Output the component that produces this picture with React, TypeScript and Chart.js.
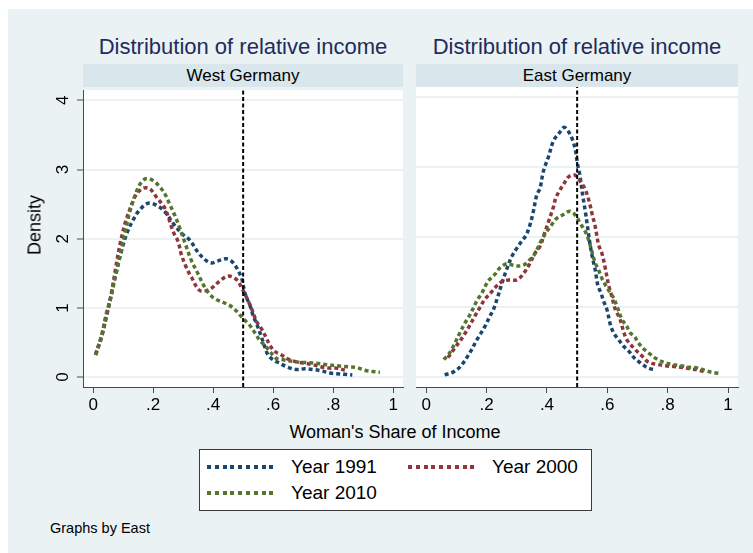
import React, { useEffect, useRef } from 'react';
import { Chart, registerables } from 'chart.js';

Chart.register(...registerables);

const FONT = '"Liberation Sans", Arial, Helvetica, sans-serif';

const xTicks = [0, 0.2, 0.4, 0.6, 0.8, 1];
const xTickLabels = ['0', '.2', '.4', '.6', '.8', '1'];
const yTicks = [0, 1, 2, 3, 4];
const yTickLabels = ['0', '1', '2', '3', '4'];
const xRange = [-0.034, 1.033];
const yRange = [-0.143, 4.147];
const cutoff = 0.5;

const seriesNames = ['Year 1991', 'Year 2000', 'Year 2010'];
const seriesColors = ['#1a476f', '#90353b', '#55752f'];
const panelTitles = ['Distribution of relative income', 'Distribution of relative income'];
const panelNames = ['West Germany', 'East Germany'];
const xAxisTitle = "Woman's Share of Income";
const yAxisTitle = 'Density';
const noteText = 'Graphs by East';

// West Germany
const westX1991 = [0.008, 0.028, 0.044, 0.061, 0.078, 0.094, 0.114, 0.133, 0.15, 0.181, 0.208, 0.239, 0.267, 0.294, 0.322, 0.35, 0.378, 0.394, 0.417, 0.444, 0.467, 0.494, 0.506, 0.525, 0.533, 0.545, 0.561, 0.572, 0.583, 0.6, 0.622, 0.65, 0.678, 0.706, 0.733, 0.761, 0.789, 0.811, 0.839, 0.864];
const westY1991 = [0.32, 0.58, 0.87, 1.2, 1.53, 1.82, 2.1, 2.27, 2.39, 2.51, 2.49, 2.39, 2.22, 2.08, 1.98, 1.8, 1.68, 1.65, 1.68, 1.71, 1.65, 1.44, 1.21, 1.01, 0.89, 0.77, 0.58, 0.44, 0.32, 0.25, 0.2, 0.14, 0.11, 0.12, 0.11, 0.09, 0.06, 0.05, 0.04, 0.03];

const westX2000 = [0.008, 0.028, 0.044, 0.061, 0.075, 0.089, 0.106, 0.128, 0.144, 0.167, 0.189, 0.211, 0.239, 0.267, 0.283, 0.294, 0.311, 0.328, 0.356, 0.389, 0.422, 0.45, 0.478, 0.494, 0.517, 0.528, 0.545, 0.561, 0.578, 0.589, 0.606, 0.628, 0.65, 0.678, 0.706, 0.733, 0.756, 0.789, 0.811, 0.839];
const westY2000 = [0.33, 0.6, 0.9, 1.22, 1.58, 1.91, 2.22, 2.49, 2.64, 2.73, 2.72, 2.6, 2.44, 2.1, 1.96, 1.77, 1.58, 1.44, 1.25, 1.27, 1.39, 1.46, 1.41, 1.3, 1.1, 0.99, 0.8, 0.7, 0.56, 0.46, 0.37, 0.32, 0.26, 0.22, 0.2, 0.18, 0.15, 0.13, 0.13, 0.1];

const westX2010 = [0.008, 0.028, 0.044, 0.056, 0.07, 0.083, 0.106, 0.122, 0.144, 0.161, 0.178, 0.2, 0.222, 0.239, 0.256, 0.272, 0.289, 0.306, 0.328, 0.35, 0.372, 0.4, 0.444, 0.467, 0.489, 0.506, 0.522, 0.539, 0.556, 0.572, 0.589, 0.611, 0.633, 0.678, 0.711, 0.744, 0.778, 0.822, 0.85, 0.878, 0.906, 0.933, 0.956];
const westY2010 = [0.32, 0.6, 0.92, 1.1, 1.4, 1.63, 2.08, 2.39, 2.68, 2.82, 2.87, 2.84, 2.75, 2.65, 2.49, 2.34, 2.15, 1.94, 1.68, 1.49, 1.3, 1.15, 1.06, 1.0, 0.9, 0.82, 0.75, 0.64, 0.53, 0.46, 0.37, 0.27, 0.25, 0.22, 0.21, 0.2, 0.18, 0.16, 0.15, 0.14, 0.1, 0.08, 0.07];

// East Germany
const eastX1991 = [0.061, 0.089, 0.113, 0.142, 0.169, 0.194, 0.211, 0.222, 0.235, 0.25, 0.264, 0.283, 0.3, 0.316, 0.331, 0.344, 0.355, 0.366, 0.377, 0.388, 0.405, 0.422, 0.441, 0.457, 0.471, 0.485, 0.494, 0.501, 0.508, 0.513, 0.519, 0.527, 0.535, 0.543, 0.551, 0.56, 0.568, 0.579, 0.588, 0.599, 0.61, 0.621, 0.638, 0.654, 0.671, 0.69, 0.71, 0.734, 0.759];
const eastY1991 = [0.03, 0.07, 0.15, 0.33, 0.54, 0.72, 0.87, 0.96, 1.12, 1.33, 1.51, 1.72, 1.84, 1.94, 2.03, 2.18, 2.37, 2.6, 2.7, 2.94, 3.15, 3.38, 3.49, 3.57, 3.51, 3.39, 3.25, 3.05, 2.91, 2.77, 2.58, 2.37, 2.13, 1.89, 1.7, 1.53, 1.32, 1.2, 1.08, 0.96, 0.75, 0.63, 0.53, 0.44, 0.37, 0.27, 0.2, 0.13, 0.1];

const eastX2000 = [0.072, 0.094, 0.122, 0.139, 0.161, 0.177, 0.194, 0.213, 0.233, 0.253, 0.277, 0.302, 0.324, 0.344, 0.36, 0.377, 0.39, 0.405, 0.422, 0.429, 0.444, 0.457, 0.471, 0.491, 0.51, 0.527, 0.541, 0.549, 0.56, 0.571, 0.582, 0.593, 0.604, 0.615, 0.627, 0.641, 0.654, 0.665, 0.693, 0.715, 0.737, 0.765, 0.793, 0.821, 0.843, 0.871, 0.9, 0.926];
const eastY2000 = [0.28, 0.41, 0.58, 0.7, 0.87, 0.99, 1.11, 1.2, 1.3, 1.37, 1.39, 1.39, 1.49, 1.63, 1.77, 1.87, 2.03, 2.22, 2.44, 2.56, 2.68, 2.77, 2.86, 2.89, 2.8, 2.68, 2.49, 2.34, 2.15, 1.89, 1.77, 1.56, 1.32, 1.15, 0.96, 0.84, 0.65, 0.53, 0.39, 0.3, 0.21, 0.18, 0.16, 0.15, 0.14, 0.12, 0.1, 0.07];

const eastX2010 = [0.058, 0.075, 0.091, 0.111, 0.128, 0.142, 0.153, 0.169, 0.183, 0.205, 0.228, 0.244, 0.268, 0.294, 0.322, 0.344, 0.36, 0.372, 0.386, 0.399, 0.413, 0.43, 0.453, 0.477, 0.497, 0.51, 0.527, 0.538, 0.546, 0.56, 0.571, 0.582, 0.593, 0.61, 0.621, 0.632, 0.649, 0.665, 0.676, 0.69, 0.701, 0.721, 0.741, 0.763, 0.787, 0.815, 0.843, 0.871, 0.898, 0.926, 0.954, 0.976];
const eastY2010 = [0.25, 0.33, 0.45, 0.63, 0.77, 0.87, 0.96, 1.1, 1.19, 1.37, 1.47, 1.56, 1.62, 1.59, 1.6, 1.68, 1.76, 1.87, 1.99, 2.08, 2.16, 2.26, 2.32, 2.37, 2.3, 2.2, 2.08, 1.96, 1.84, 1.63, 1.53, 1.41, 1.32, 1.2, 1.13, 1.01, 0.82, 0.72, 0.63, 0.58, 0.5, 0.4, 0.33, 0.26, 0.21, 0.18, 0.16, 0.14, 0.13, 0.09, 0.06, 0.05];

const westSeries = [[westX1991, westY1991], [westX2000, westY2000], [westX2010, westY2010]];
const eastSeries = [[eastX1991, eastY1991], [eastX2000, eastY2000], [eastX2010, eastY2010]];

const BG = '#eaf2f3';
const STRIP = '#d9e6eb';
const AXIS = '#4a4a4a';
const TITLE_COLOR = '#1e2c5c';

const toPoints = (xs: number[], ys: number[]) => xs.map((x, i) => ({ x, y: ys[i] }));

const plotBg = {
  id: 'plotBg',
  beforeDraw(chart: any) {
    const { ctx, chartArea } = chart;
    ctx.save();
    ctx.fillStyle = '#ffffff';
    ctx.fillRect(chartArea.left, chartArea.top, chartArea.right - chartArea.left, chartArea.bottom - chartArea.top);
    ctx.restore();
  },
};

function Panel(props: { series: number[][][]; showY: boolean; left: number; width: number; padRight: number; yWidth: number }) {
  const ref = useRef<HTMLCanvasElement>(null);
  useEffect(() => {
    const canvas = ref.current;
    if (!canvas) return;
    const datasets: any[] = [
      {
        label: 'cutoff',
        data: [{ x: cutoff, y: yRange[0] }, { x: cutoff, y: yRange[1] }],
        borderColor: '#000000',
        borderWidth: 2,
        borderDash: [4, 2.5],
        pointRadius: 0,
        order: 0,
      },
    ];
    props.series.forEach(([xs, ys], i) => {
      datasets.push({
        label: seriesNames[i],
        data: toPoints(xs, ys),
        borderColor: seriesColors[i],
        borderWidth: 3.5,
        borderDash: [4, 3],
        borderCapStyle: 'butt',
        pointRadius: 0,
        tension: 0.35,
        order: 3 - i,
      });
    });
    const chart = new Chart(canvas, {
      type: 'line',
      data: { datasets },
      plugins: [plotBg],
      options: {
        animation: false,
        responsive: false,
        events: [],
        layout: { padding: { top: 16, right: props.padRight, left: 0, bottom: 0 } },
        plugins: { legend: { display: false }, tooltip: { enabled: false } },
        scales: {
          x: {
            type: 'linear',
            min: xRange[0],
            max: xRange[1],
            afterBuildTicks: (s: any) => {
              s.ticks = xTicks.map((v) => ({ value: v }));
            },
            afterFit: (s: any) => {
              s.height = 33;
            },
            ticks: {
              autoSkip: false,
              maxRotation: 0,
              minRotation: 0,
              padding: 2,
              color: '#000000',
              font: { family: FONT, size: 17 },
              callback: (v: any) => {
                const idx = xTicks.findIndex((t) => Math.abs(t - Number(v)) < 1e-6);
                return idx >= 0 ? xTickLabels[idx] : '';
              },
            },
            grid: { drawOnChartArea: false, drawTicks: true, tickLength: 6, tickColor: AXIS, tickWidth: 1 },
            border: { display: true, color: AXIS, width: 1 },
          },
          y: {
            type: 'linear',
            min: yRange[0],
            max: yRange[1],
            afterBuildTicks: (s: any) => {
              s.ticks = yTicks.map((v) => ({ value: v }));
            },
            afterFit: (s: any) => {
              s.width = props.yWidth;
            },
            ticks: {
              display: props.showY,
              autoSkip: false,
              minRotation: 90,
              maxRotation: 90,
              crossAlign: 'center',
              padding: 9,
              color: '#000000',
              font: { family: FONT, size: 17 },
              callback: (v: any) => {
                const idx = yTicks.findIndex((t) => Math.abs(t - Number(v)) < 1e-6);
                return idx >= 0 ? yTickLabels[idx] : '';
              },
            },
            grid: {
              color: BG,
              lineWidth: 2,
              drawTicks: props.showY,
              tickLength: 6,
              tickColor: AXIS,
              tickWidth: 1,
            },
            border: { display: props.showY, color: AXIS, width: 1 },
          },
        },
      } as any,
    });
    return () => chart.destroy();
  }, []);
  return (
    <canvas
      ref={ref}
      width={props.width}
      height={349}
      style={{ position: 'absolute', left: props.left, top: 71, width: props.width, height: 349 }}
    />
  );
}

const dashBar = (color: string) => ({
  position: 'absolute' as const,
  width: 70,
  height: 4,
  backgroundImage: `repeating-linear-gradient(to right, ${color} 0px, ${color} 4px, transparent 4px, transparent 7.8px)`,
});

export default function App() {
  const text = { position: 'absolute' as const, fontFamily: FONT, whiteSpace: 'nowrap' as const };
  return (
    <div style={{ position: 'fixed', left: 0, top: 0, width: 753, height: 553, background: '#ffffff', overflow: 'hidden' }}>
      <div style={{ position: 'absolute', left: 8, top: 9, width: 745, height: 544, background: BG }} />
      {/* panel titles */}
      <div style={{ ...text, left: 83, width: 320, top: 35, height: 24, lineHeight: '24px', fontSize: 22, color: TITLE_COLOR, textAlign: 'center' }}>{panelTitles[0]}</div>
      <div style={{ ...text, left: 416, width: 322, top: 35, height: 24, lineHeight: '24px', fontSize: 22, color: TITLE_COLOR, textAlign: 'center' }}>{panelTitles[1]}</div>
      {/* strips */}
      <div style={{ ...text, left: 83, width: 320, top: 64, height: 23, lineHeight: '23px', fontSize: 17, background: STRIP, color: '#000', textAlign: 'center' }}>{panelNames[0]}</div>
      <div style={{ ...text, left: 416, width: 322, top: 64, height: 23, lineHeight: '23px', fontSize: 17, background: STRIP, color: '#000', textAlign: 'center' }}>{panelNames[1]}</div>
      <Panel series={westSeries} showY={true} left={20} width={390} padRight={7} yWidth={63} />
      <Panel series={eastSeries} showY={false} left={410} width={340} padRight={12} yWidth={6} />
      {/* y axis title */}
      <div style={{ ...text, left: 35, top: 225, fontSize: 18, color: '#000', transform: 'translate(-50%, -50%) rotate(-90deg)' }}>{yAxisTitle}</div>
      {/* x axis title */}
      <div style={{ ...text, left: 245, width: 300, top: 421, height: 22, lineHeight: '22px', fontSize: 18, color: '#000', textAlign: 'center' }}>{xAxisTitle}</div>
      {/* legend */}
      <div style={{ position: 'absolute', left: 199, top: 449, width: 391, height: 60, background: '#ffffff', border: '1px solid #3a3a3a' }} />
      <div style={{ ...dashBar(seriesColors[0]), left: 207, top: 465 }} />
      <div style={{ ...text, left: 291, top: 456, height: 22, lineHeight: '22px', fontSize: 19, color: '#000' }}>{seriesNames[0]}</div>
      <div style={{ ...dashBar(seriesColors[1]), left: 408, top: 465 }} />
      <div style={{ ...text, left: 492, top: 456, height: 22, lineHeight: '22px', fontSize: 19, color: '#000' }}>{seriesNames[1]}</div>
      <div style={{ ...dashBar(seriesColors[2]), left: 207, top: 491 }} />
      <div style={{ ...text, left: 291, top: 482, height: 22, lineHeight: '22px', fontSize: 19, color: '#000' }}>{seriesNames[2]}</div>
      {/* note */}
      <div style={{ ...text, left: 50, top: 519, height: 18, lineHeight: '18px', fontSize: 14.5, color: '#000' }}>{noteText}</div>
    </div>
  );
}
